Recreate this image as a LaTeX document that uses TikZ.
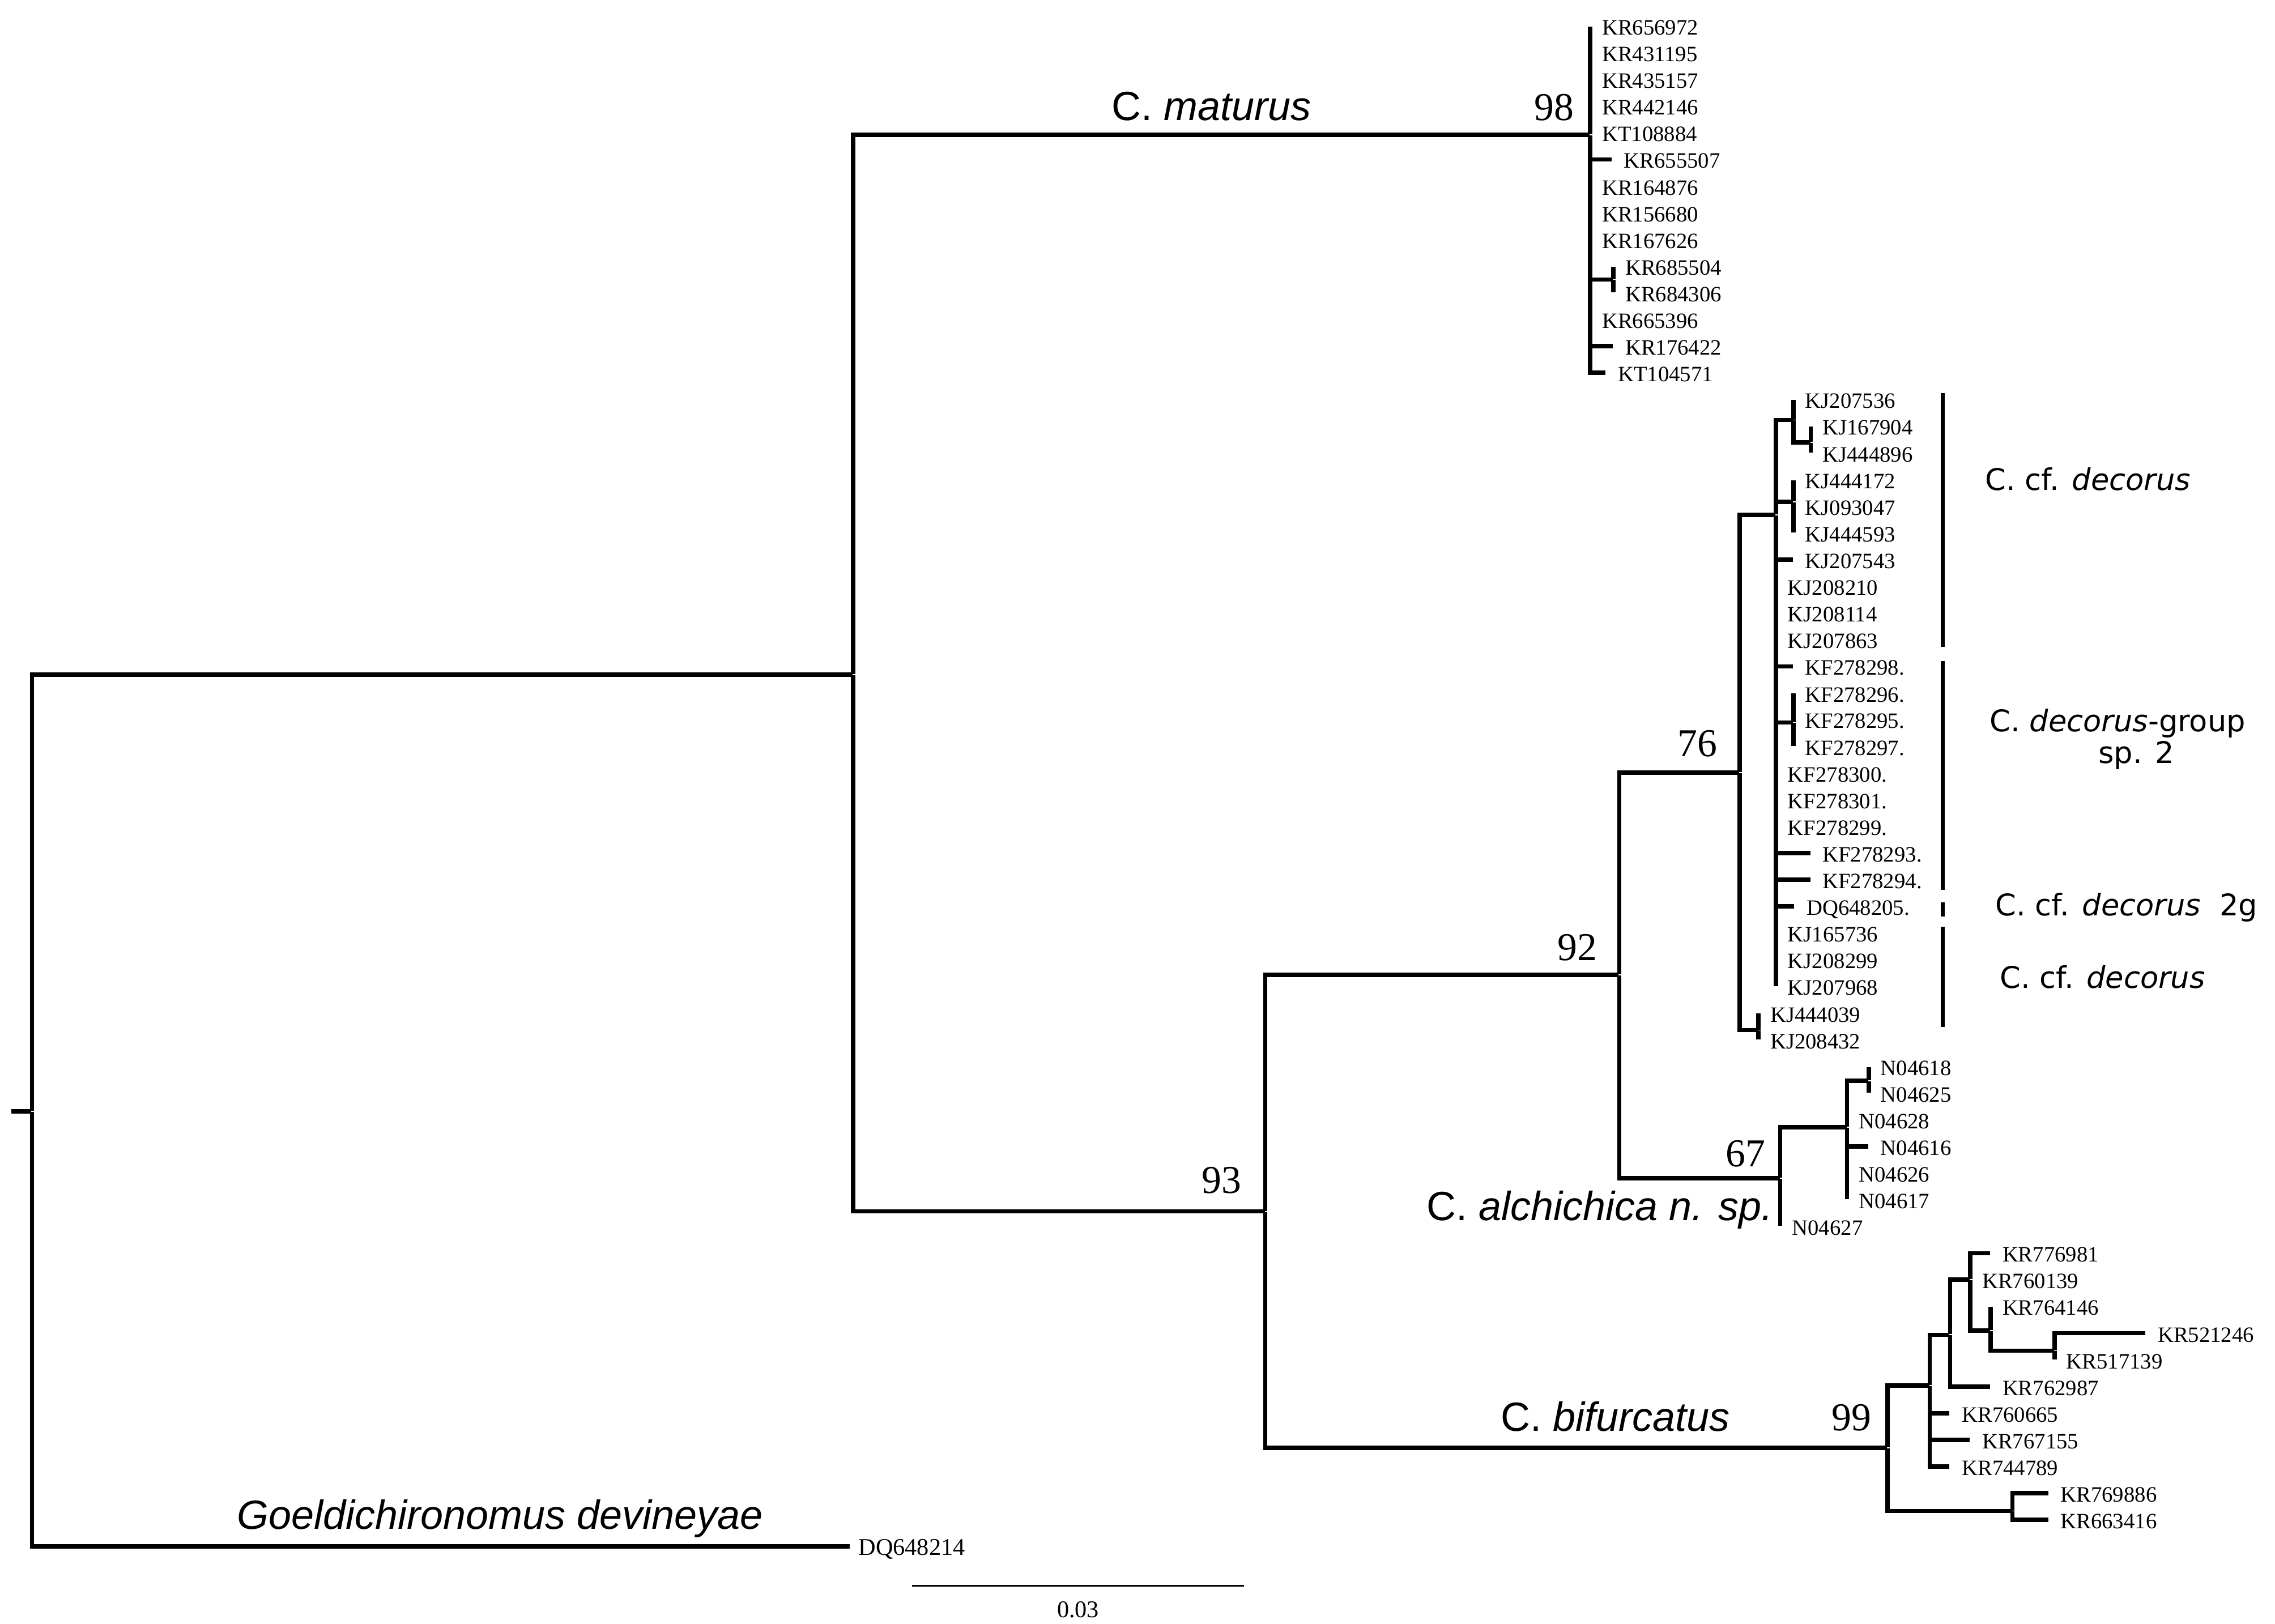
\documentclass[tikz,border=0pt]{standalone}
\usepackage{fontspec}
\setmainfont{Liberation Serif}
\newfontfamily\cladesans{Liberation Sans}
\newfontfamily\groupsans{DejaVu Sans}
\newcommand{\tipsize}{\fontsize{8.6}{10}\selectfont}
\newcommand{\outsize}{\fontsize{9.4}{11}\selectfont}
\newcommand{\bootsize}{\fontsize{15.5}{18}\selectfont}
\newcommand{\cladesize}{\fontsize{16}{19}\selectfont}
\newcommand{\groupsize}{\fontsize{11.7}{14}\selectfont}

\begin{document}
\begin{tikzpicture}[x=0.02cm, y=-0.02cm,
    branch/.style={line width=1.7pt},
    inode/.style={inner sep=0pt, minimum size=0pt},
    tip/.style={inner sep=0pt, minimum size=0pt},
    tiplab/.style={inner sep=0pt, text height=1.5ex, text depth=0pt, font=\tipsize, xshift=0.15cm},
    outlab/.style={inner sep=0pt, text height=1.5ex, text depth=0pt, font=\outsize, xshift=0.1cm},
    boot/.style={anchor=base east, inner sep=0pt, font=\bootsize},
    clade/.style={anchor=base west, inner sep=0pt, font=\cladesize\cladesans},
    grp/.style={anchor=base west, inner sep=0pt, font=\groupsize\groupsans},
    bar/.style={line width=1.7pt}]
    \useasboundingbox (0,0) rectangle (1568,1119);

    % Define nodes
    \coordinate (stub) at (8,766);
    \node[inode] (root) at (22,766) {};
    \node[inode] (nbase) at (588,465) {};
    \node[inode] (n98) at (1096,93) {};
    \node[inode] (n93) at (872,835) {};
    \node[inode] (n92) at (1116,672) {};
    \node[inode] (n76) at (1199,532.5) {};
    \node[inode] (ndec) at (1224,355) {};
    \node[inode] (n67) at (1227,812) {};
    \node[inode] (nalc) at (1273,777) {};
    \node[inode] (n99) at (1301,998) {};

    % C. maturus
    \node[tip, label={[tiplab]right:KR656972}] (kr656972) at (1096,18.0) {};
    \node[tip, label={[tiplab]right:KR431195}] (kr431195) at (1096,36.4) {};
    \node[tip, label={[tiplab]right:KR435157}] (kr435157) at (1096,54.8) {};
    \node[tip, label={[tiplab]right:KR442146}] (kr442146) at (1096,73.2) {};
    \node[tip, label={[tiplab]right:KT108884}] (kt108884) at (1096,91.5) {};
    \node[tip, label={[tiplab]right:KR655507}] (kr655507) at (1111,109.9) {};
    \node[tip, label={[tiplab]right:KR164876}] (kr164876) at (1096,128.3) {};
    \node[tip, label={[tiplab]right:KR156680}] (kr156680) at (1096,146.7) {};
    \node[tip, label={[tiplab]right:KR167626}] (kr167626) at (1096,165.1) {};
    \node[inode] (nm1) at (1112,192.7) {};
    \node[tip, label={[tiplab]right:KR685504}] (kr685504) at (1112,183.5) {};
    \node[tip, label={[tiplab]right:KR684306}] (kr684306) at (1112,201.9) {};
    \node[tip, label={[tiplab]right:KR665396}] (kr665396) at (1096,220.2) {};
    \node[tip, label={[tiplab]right:KR176422}] (kr176422) at (1112,238.6) {};
    \node[tip, label={[tiplab]right:KT104571}] (kt104571) at (1107,257.0) {};

    % decorus group
    \node[inode] (nd1) at (1236,289.5) {};
    \node[inode] (nd2) at (1248,305) {};
    \node[inode] (nd3) at (1236,346) {};
    \node[inode] (nd4) at (1236,498) {};
    \node[inode] (nd5) at (1212,710) {};
    \node[tip, label={[tiplab]right:KJ207536}] (kj207536) at (1236,275.4) {};
    \node[tip, label={[tiplab]right:KJ167904}] (kj167904) at (1248,293.8) {};
    \node[tip, label={[tiplab]right:KJ444896}] (kj444896) at (1248,312.2) {};
    \node[tip, label={[tiplab]right:KJ444172}] (kj444172) at (1236,330.6) {};
    \node[tip, label={[tiplab]right:KJ093047}] (kj093047) at (1236,348.9) {};
    \node[tip, label={[tiplab]right:KJ444593}] (kj444593) at (1236,367.3) {};
    \node[tip, label={[tiplab]right:KJ207543}] (kj207543) at (1236,385.7) {};
    \node[tip, label={[tiplab]right:KJ208210}] (kj208210) at (1224,404.1) {};
    \node[tip, label={[tiplab]right:KJ208114}] (kj208114) at (1224,422.5) {};
    \node[tip, label={[tiplab]right:KJ207863}] (kj207863) at (1224,440.9) {};
    \node[tip, label={[tiplab]right:KF278298.}] (kf278298) at (1236,459.3) {};
    \node[tip, label={[tiplab]right:KF278296.}] (kf278296) at (1236,477.7) {};
    \node[tip, label={[tiplab]right:KF278295.}] (kf278295) at (1236,496.0) {};
    \node[tip, label={[tiplab]right:KF278297.}] (kf278297) at (1236,514.4) {};
    \node[tip, label={[tiplab]right:KF278300.}] (kf278300) at (1224,532.8) {};
    \node[tip, label={[tiplab]right:KF278301.}] (kf278301) at (1224,551.2) {};
    \node[tip, label={[tiplab]right:KF278299.}] (kf278299) at (1224,569.6) {};
    \node[tip, label={[tiplab]right:KF278293.}] (kf278293) at (1248,588.0) {};
    \node[tip, label={[tiplab]right:KF278294.}] (kf278294) at (1248,606.4) {};
    \node[tip, label={[tiplab]right:DQ648205.}] (dq648205) at (1237,624.7) {};
    \node[tip, label={[tiplab]right:KJ165736}] (kj165736) at (1224,643.1) {};
    \node[tip, label={[tiplab]right:KJ208299}] (kj208299) at (1224,661.5) {};
    \node[tip, label={[tiplab]right:KJ207968}] (kj207968) at (1224,679.9) {};
    \node[tip, label={[tiplab]right:KJ444039}] (kj444039) at (1212,698.3) {};
    \node[tip, label={[tiplab]right:KJ208432}] (kj208432) at (1212,716.7) {};

    % C. alchichica
    \node[inode] (na1) at (1288,745) {};
    \node[tip, label={[tiplab]right:N04618}] (n04618) at (1288,735.1) {};
    \node[tip, label={[tiplab]right:N04625}] (n04625) at (1288,753.4) {};
    \node[tip, label={[tiplab]right:N04628}] (n04628) at (1273,771.8) {};
    \node[tip, label={[tiplab]right:N04616}] (n04616) at (1288,790.2) {};
    \node[tip, label={[tiplab]right:N04626}] (n04626) at (1273,808.6) {};
    \node[tip, label={[tiplab]right:N04617}] (n04617) at (1273,827.0) {};
    \node[tip, label={[tiplab]right:N04627}] (n04627) at (1227,845.4) {};

    % C. bifurcatus
    \node[inode] (nb1) at (1330,955) {};
    \node[inode] (nb2) at (1344,920) {};
    \node[inode] (nb3) at (1358,882) {};
    \node[inode] (nb4) at (1372,917) {};
    \node[inode] (nb5) at (1416,931) {};
    \node[inode] (nb6) at (1387,1041.5) {};
    \node[tip, label={[tiplab]right:KR776981}] (kr776981) at (1372,863.8) {};
    \node[tip, label={[tiplab]right:KR760139}] (kr760139) at (1358,882.1) {};
    \node[tip, label={[tiplab]right:KR764146}] (kr764146) at (1372,900.5) {};
    \node[tip, label={[tiplab]right:KR521246}] (kr521246) at (1479,918.9) {};
    \node[tip, label={[tiplab]right:KR517139}] (kr517139) at (1416,937.3) {};
    \node[tip, label={[tiplab]right:KR762987}] (kr762987) at (1372,955.7) {};
    \node[tip, label={[tiplab]right:KR760665}] (kr760665) at (1344,974.1) {};
    \node[tip, label={[tiplab]right:KR767155}] (kr767155) at (1358,992.5) {};
    \node[tip, label={[tiplab]right:KR744789}] (kr744789) at (1344,1010.8) {};
    \node[tip, label={[tiplab]right:KR769886}] (kr769886) at (1412,1029.2) {};
    \node[tip, label={[tiplab]right:KR663416}] (kr663416) at (1412,1047.6) {};

    % outgroup
    \node[tip, label={[outlab]right:DQ648214}] (dq648214) at (586,1066) {};

    % Draw edges
    \draw[branch] (stub) -- (root);
    \draw[branch] (root) |- (nbase);
    \draw[branch] (root) |- (dq648214);
    \draw[branch] (nbase) |- (n98);
    \draw[branch] (nbase) |- (n93);
    \draw[branch] (n93) |- (n92);
    \draw[branch] (n93) |- (n99);
    \draw[branch] (n92) |- (n76);
    \draw[branch] (n92) |- (n67);
    \draw[branch] (n76) |- (ndec);
    \draw[branch] (n76) |- (nd5);
    \draw[branch] (n67) |- (nalc);
    \draw[branch] (n67) -- (n04627);

    \draw[branch] (n98) -- (kr656972);
    \draw[branch] (n98) |- (kr655507);
    \draw[branch] (n98) |- (nm1);
    \draw[branch] (n98) |- (kr176422);
    \draw[branch] (n98) |- (kt104571);
    \draw[branch] (nm1) -- (kr685504);
    \draw[branch] (nm1) -- (kr684306);

    \draw[branch] (ndec) |- (nd1);
    \draw[branch] (ndec) |- (nd3);
    \draw[branch] (ndec) |- (kj207543);
    \draw[branch] (ndec) |- (kf278298);
    \draw[branch] (ndec) |- (nd4);
    \draw[branch] (ndec) |- (kf278293);
    \draw[branch] (ndec) |- (kf278294);
    \draw[branch] (ndec) |- (dq648205);
    \draw[branch] (ndec) -- (kj207968);
    \draw[branch] (nd1) -- (kj207536);
    \draw[branch] (nd1) |- (nd2);
    \draw[branch] (nd2) -- (kj167904);
    \draw[branch] (nd2) -- (kj444896);
    \draw[branch] (nd3) -- (kj444172);
    \draw[branch] (nd3) -- (kj444593);
    \draw[branch] (nd4) -- (kf278296);
    \draw[branch] (nd4) -- (kf278297);
    \draw[branch] (nd5) -- (kj444039);
    \draw[branch] (nd5) -- (kj208432);

    \draw[branch] (nalc) |- (na1);
    \draw[branch] (nalc) |- (n04616);
    \draw[branch] (nalc) -- (n04617);
    \draw[branch] (na1) -- (n04618);
    \draw[branch] (na1) -- (n04625);

    \draw[branch] (n99) |- (nb1);
    \draw[branch] (n99) |- (nb6);
    \draw[branch] (nb1) |- (nb2);
    \draw[branch] (nb1) |- (kr760665);
    \draw[branch] (nb1) |- (kr767155);
    \draw[branch] (nb1) |- (kr744789);
    \draw[branch] (nb2) |- (nb3);
    \draw[branch] (nb2) |- (kr762987);
    \draw[branch] (nb3) |- (kr776981);
    \draw[branch] (nb3) |- (nb4);
    \draw[branch] (nb4) -- (kr764146);
    \draw[branch] (nb4) |- (nb5);
    \draw[branch] (nb5) |- (kr521246);
    \draw[branch] (nb5) -- (kr517139);
    \draw[branch] (nb6) |- (kr769886);
    \draw[branch] (nb6) |- (kr663416);

    % bootstrap values
    \node[boot] (b98) at (1085,83) {98};
    \node[boot] (b76) at (1184,521.3) {76};
    \node[boot] (b92) at (1101,662) {92};
    \node[boot] (b67) at (1217,804) {67};
    \node[boot] (b93) at (856,822.6) {93};
    \node[boot] (b99) at (1290,986) {99};

    % clade names
    \node[clade] (lmat) at (766,83) {C. \textit{maturus}};
    \node[clade] (lalc) at (983,841) {C. \textit{alchichica n. sp.}};
    \node[clade] (lbif) at (1034,986.6) {C. \textit{bifurcatus}};
    \node[clade] (lgoe) at (163,1054) {\textit{Goeldichironomus devineyae}};

    % group bars
    \draw[bar] (1339,271) -- (1339,445.8);
    \draw[bar] (1339,455.7) -- (1339,613.3);
    \draw[bar] (1339,621.8) -- (1339,631.7);
    \draw[bar] (1339,638.8) -- (1339,708);
    \node[grp] (gdec1) at (1368,338) {C. cf. \textit{decorus}};
    \node[grp] (gdec2) at (1371,504.4) {C. \textit{decorus}-group};
    \node[grp] (gdec2b) at (1446,526) {sp. 2};
    \node[grp] (gdec3) at (1375,631.3) {C. cf. \textit{decorus}\hspace{0.63em}2g};
    \node[grp] (gdec4) at (1378,681) {C. cf. \textit{decorus}};

    % scale bar
    \coordinate (sb1) at (628.6,1093);
    \coordinate (sb2) at (857.5,1093);
    \draw[line width=0.8pt] (sb1) -- (sb2);
    \node[font=\outsize, inner sep=0pt] (sblab) at (743,1109.7) {0.03};

\end{tikzpicture}
\end{document}
